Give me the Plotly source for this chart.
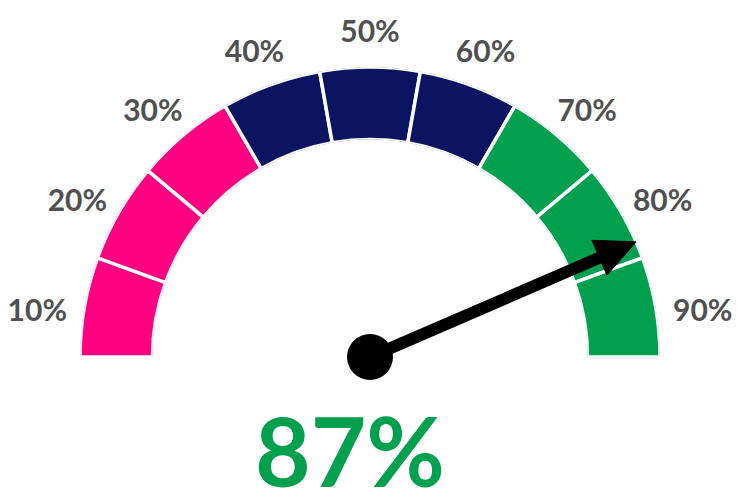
import math
import plotly.graph_objects as go

# gauge data
labels = ["10%", "20%", "30%", "40%", "50%", "60%", "70%", "80%", "90%"]
seg_angle = [170, 150, 130, 110, 90, 70, 50, 30, 10]
seg_colors = ["#FF0080", "#FF0080", "#FF0080",
              "#0B1460", "#0B1460", "#0B1460",
              "#00A04F", "#00A04F", "#00A04F"]
value = 87  # percent

needle_theta = 180 * (1 - value / 100)

# arrow head: 40px long, 38px wide on a 290px ring
ring_px = 290
head_len, head_half = 40, 19
base_d = ring_px - head_len
base_r = math.hypot(base_d, head_half) / ring_px
base_da = math.degrees(math.atan(head_half / base_d))

fig = go.Figure()

fig.add_trace(go.Barpolar(
    r=[1] * len(labels), theta=seg_angle, width=[20] * len(labels),
    marker=dict(color=seg_colors, line=dict(color="white", width=3.5)),
    subplot="polar", hoverinfo="skip", showlegend=False,
))

# labels just outside the ring
fig.add_trace(go.Scatterpolar(
    r=[1.165] * len(labels), theta=seg_angle, text=labels, mode="text",
    textposition="middle center",
    textfont=dict(family="Lato", size=30, color="#505050", weight="bold"),
    subplot="polar3", hoverinfo="skip", showlegend=False,
))

# needle
fig.add_trace(go.Scatterpolar(
    r=[0, 0.9], theta=[needle_theta, needle_theta], mode="lines",
    line=dict(color="black", width=12), subplot="polar2",
    hoverinfo="skip", showlegend=False,
))
fig.add_trace(go.Scatterpolar(
    r=[1.0, base_r, base_r, 1.0],
    theta=[needle_theta, needle_theta + base_da, needle_theta - base_da, needle_theta],
    mode="lines", fill="toself", fillcolor="black", line=dict(color="black", width=1),
    subplot="polar2", hoverinfo="skip", showlegend=False,
))
fig.add_trace(go.Scatterpolar(
    r=[0], theta=[0], mode="markers", cliponaxis=False,
    marker=dict(size=46, color="black"),
    subplot="polar2", hoverinfo="skip", showlegend=False,
))

# page body has an 8px margin, so pixel targets are shifted by 8
cx, cy = 362, 349
dom = dict(x=[(cx - ring_px) / 740, (cx + ring_px) / 740],
           y=[1 - cy / 489, 1 - (cy - ring_px) / 489])
# label ring: a bit larger and sitting slightly lower, so text is not clipped
outer, ly = 1.2, cy + 15
dom3 = dict(x=[(cx - ring_px * outer) / 740, (cx + ring_px * outer) / 740],
            y=[1 - ly / 489, 1 - (ly - ring_px * outer) / 489])

hidden = dict(visible=False)
fig.update_layout(
    width=740, height=489,
    margin=dict(l=0, r=0, t=0, b=0),
    paper_bgcolor="white",
    polar=dict(
        domain=dom, sector=[0, 180], hole=0.75, bgcolor="rgba(0,0,0,0)",
        radialaxis=dict(visible=False, range=[0, 1]), angularaxis=hidden,
    ),
    polar2=dict(
        domain=dom, sector=[0, 180], hole=0, bgcolor="rgba(0,0,0,0)",
        radialaxis=dict(visible=False, range=[0, 1]), angularaxis=hidden,
    ),
    polar3=dict(
        domain=dom3, sector=[0, 180], hole=0, bgcolor="rgba(0,0,0,0)",
        radialaxis=dict(visible=False, range=[0, outer]), angularaxis=hidden,
    ),
    annotations=[dict(
        text=f"{value}%", x=342 / 740, y=1 - 441 / 489, xref="paper", yref="paper",
        showarrow=False, xanchor="center", yanchor="middle",
        font=dict(family="Lato", size=96, color="#00A04F", weight="bold"),
    )],
)

fig.write_html("out.html")
